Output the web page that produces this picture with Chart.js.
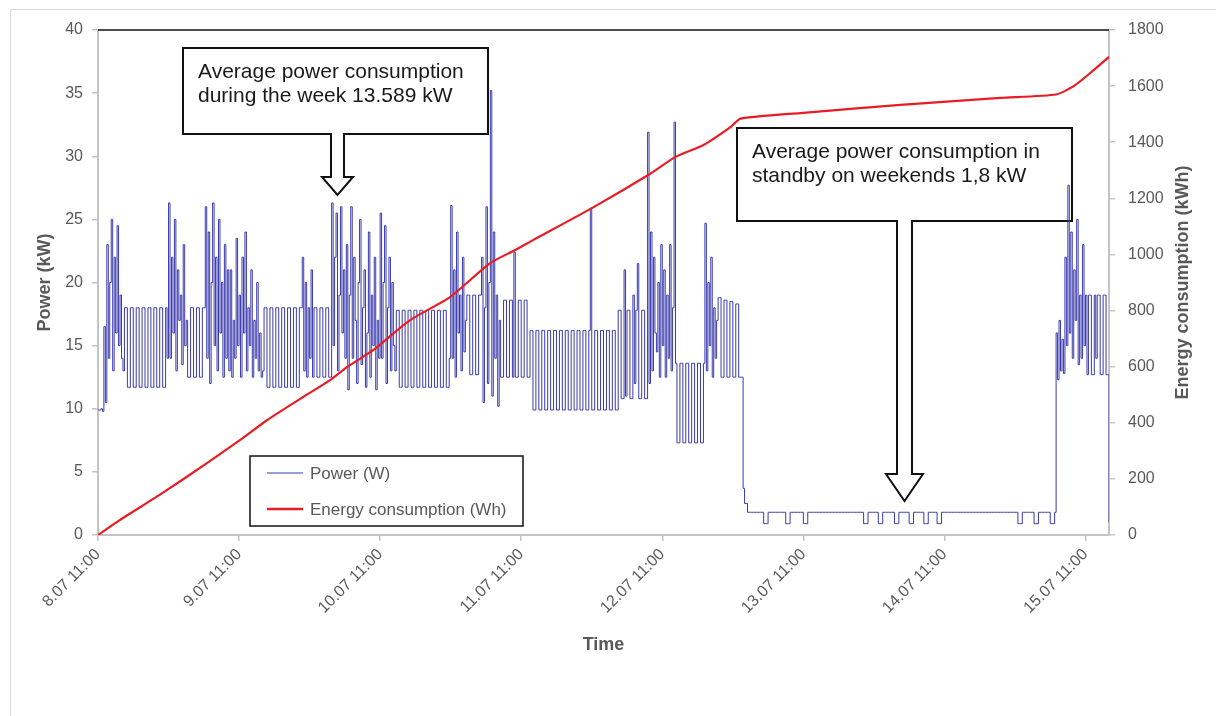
<!DOCTYPE html>
<html>
<head>
<meta charset="utf-8">
<script src="https://cdn.jsdelivr.net/npm/chart.js@4.4.1/dist/chart.umd.min.js"></script>
<style>
  html, body { margin: 0; padding: 0; background: #fff; }
  #wrap { position: relative; width: 1216px; height: 716px; overflow: hidden; }
  #frame { position: absolute; left: 10px; top: 9px; width: 1240px; height: 740px; border: 1px solid #d9d9d9; box-sizing: border-box; }
  canvas { position: absolute; left: 0; top: 0; }
</style>
</head>
<body>
<div id="wrap"><div id="frame"></div><canvas id="chart" width="1216" height="716"></canvas></div>
<script>
// x axis = hours after 8.07 11:00
const dayTicks = [0, 24, 48, 72, 96, 120, 144, 168];
const dayLabels = ['8.07 11:00', '9.07 11:00', '10.07 11:00', '11.07 11:00',
                   '12.07 11:00', '13.07 11:00', '14.07 11:00', '15.07 11:00'];

// power samples, one every 15 min (kW), one row = 6 h
const powerStep = 0.25;
const powerKW = [
  9.9, 9.9, 10, 9.8, 16.5, 10.5, 23, 14, 20, 25, 13, 22, 16, 24.5, 15, 19, 14, 13, 18, 18, 11.7, 11.7, 18, 18,
  11.7, 11.7, 18, 18, 11.7, 11.7, 18, 18, 11.7, 11.7, 18, 18, 11.7, 11.7, 18, 18, 11.7, 11.7, 18, 18, 11.7, 11.7, 18, 14,
  26.3, 14, 22, 16, 25, 13, 21, 17, 19, 13.5, 23, 15, 17, 12.5, 12.5, 18, 18, 12.5, 12.5, 18, 18, 12.5, 12.5, 18,
  18, 26, 14, 24, 12, 20, 26.3, 15, 22, 13, 25, 16, 20, 12.5, 23, 14, 21, 13, 21, 12.5, 17, 14, 23.5, 15,
  // 24 h
  19, 12.5, 22, 16, 24, 13, 18, 15, 21, 12.5, 17, 14, 20, 13, 16, 12.5, 13, 18, 18, 11.7, 11.7, 18, 18, 11.7,
  11.7, 18, 18, 11.7, 11.7, 18, 18, 11.7, 11.7, 18, 18, 11.7, 11.7, 18, 18, 11.7, 11.7, 18, 18, 22, 13, 20, 12.5, 18,
  14, 21, 12.5, 18, 18, 12.5, 12.5, 18, 18, 12.5, 12.5, 18, 18, 12.5, 12.5, 26.3, 15, 22, 25.5, 13, 19, 26, 16, 21,
  14, 23, 11.5, 19, 26, 14, 22, 17, 12, 20, 25, 13.5, 18, 21, 11.7, 16, 24, 12.5, 19, 15, 22, 11.5, 17, 14,
  // 48 h
  25.5, 14, 20, 24.5, 12, 18, 22, 13, 20, 15, 13, 17.8, 17.8, 11.7, 11.7, 17.8, 17.8, 11.7, 11.7, 17.8, 17.8, 11.7, 11.7, 17.8,
  17.8, 11.7, 11.7, 17.8, 17.8, 11.7, 11.7, 17.8, 17.8, 11.7, 11.7, 17.8, 17.8, 11.7, 11.7, 17.8, 17.8, 11.7, 11.7, 17.8, 17.8, 11.7, 11.7, 14,
  26.1, 14, 21, 12.5, 24, 16, 19, 13, 22, 14.5, 17, 19, 19, 12.7, 12.7, 19, 19, 12.7, 12.7, 19, 19, 22, 10.5, 18,
  26, 12, 20, 35.2, 11, 24, 14, 19, 10.2, 17, 12.5, 12.5, 18.6, 18.6, 12.5, 12.5, 18.6, 18.6, 12.5, 22.4, 12.5, 12.5, 18.6, 18.6,
  // 72 h
  12.5, 12.5, 18.6, 18.6, 12.5, 12.5, 16.2, 16.2, 9.9, 9.9, 16.2, 16.2, 9.9, 9.9, 16.2, 16.2, 9.9, 9.9, 16.2, 16.2, 9.9, 9.9, 16.2, 16.2,
  9.9, 9.9, 16.2, 16.2, 9.9, 9.9, 16.2, 16.2, 9.9, 9.9, 16.2, 16.2, 9.9, 9.9, 16.2, 16.2, 9.9, 9.9, 16.2, 16.2, 9.9, 9.9, 16.2, 25.9,
  9.9, 9.9, 16.2, 16.2, 9.9, 9.9, 16.2, 16.2, 9.9, 9.9, 16.2, 16.2, 9.9, 9.9, 16.2, 16.2, 9.9, 9.9, 17.8, 17.8, 10.8, 10.8, 21, 11,
  17.8, 17.8, 10.8, 10.8, 19, 12, 17.8, 21.5, 10.8, 10.8, 17.8, 17.8, 10.8, 10.8, 31.9, 12, 24, 13, 22, 16, 14.5, 20, 12.5, 23,
  // 96 h
  15, 21, 12.5, 19, 14, 23, 13, 18, 32.7, 13.6, 7.3, 7.3, 13.6, 13.6, 7.3, 7.3, 13.6, 13.6, 7.3, 7.3, 13.6, 13.6, 7.3, 7.3,
  13.6, 13.6, 7.3, 7.3, 13.6, 24.7, 13, 20, 15, 22, 12.5, 18, 14, 17, 18.8, 18.8, 12.5, 12.5, 18.6, 18.6, 12.5, 12.5, 18.5, 18.5,
  12.5, 12.5, 18.3, 18.3, 12.5, 12.5, 12.5, 3.7, 2.5, 2.5, 1.8, 1.8, 1.8, 1.8, 1.8, 1.8, 1.8, 1.8, 1.8, 1.8, 1.8, 0.9, 0.9, 0.9,
  1.8, 1.8, 1.8, 1.8, 1.8, 1.8, 1.8, 1.8, 1.8, 1.8, 1.8, 1.8, 0.9, 0.9, 0.9, 1.8, 1.8, 1.8, 1.8, 1.8, 1.8, 1.8, 1.8, 1.8,
  // 120 h
  0.9, 0.9, 0.9, 1.8, 1.8, 1.8, 1.8, 1.8, 1.8, 1.8, 1.8, 1.8, 1.8, 1.8, 1.8, 1.8, 1.8, 1.8, 1.8, 1.8, 1.8, 1.8, 1.8, 1.8,
  1.8, 1.8, 1.8, 1.8, 1.8, 1.8, 1.8, 1.8, 1.8, 1.8, 1.8, 1.8, 1.8, 1.8, 1.8, 1.8, 1.8, 0.9, 0.9, 0.9, 1.8, 1.8, 1.8, 1.8,
  1.8, 1.8, 1.8, 0.9, 0.9, 0.9, 1.8, 1.8, 1.8, 1.8, 1.8, 1.8, 1.8, 1.8, 0.9, 0.9, 0.9, 1.8, 1.8, 1.8, 1.8, 1.8, 1.8, 1.8,
  0.9, 0.9, 0.9, 1.8, 1.8, 1.8, 1.8, 1.8, 1.8, 1.8, 0.9, 0.9, 0.9, 1.8, 1.8, 1.8, 1.8, 1.8, 1.8, 0.9, 0.9, 0.9, 1.8, 1.8,
  // 144 h
  1.8, 1.8, 1.8, 1.8, 1.8, 1.8, 1.8, 1.8, 1.8, 1.8, 1.8, 1.8, 1.8, 1.8, 1.8, 1.8, 1.8, 1.8, 1.8, 1.8, 1.8, 1.8, 1.8, 1.8,
  1.8, 1.8, 1.8, 1.8, 1.8, 1.8, 1.8, 1.8, 1.8, 1.8, 1.8, 1.8, 1.8, 1.8, 1.8, 1.8, 1.8, 1.8, 1.8, 1.8, 1.8, 1.8, 1.8, 1.8,
  1.8, 1.8, 0.9, 0.9, 0.9, 1.8, 1.8, 1.8, 1.8, 1.8, 1.8, 1.8, 1.8, 0.9, 0.9, 0.9, 1.8, 1.8, 1.8, 1.8, 1.8, 1.8, 1.8, 1.8,
  0.9, 0.9, 0.9, 1.8, 16, 12.3, 17, 13, 15.5, 12.8, 22, 15, 27.7, 16, 24, 14, 21, 17, 25, 13.5, 19, 14, 23, 15,
  // 168 h
  19, 12.7, 19, 19, 12.7, 12.7, 19, 14, 19, 19, 12.7, 12.7, 19, 19, 12.7, 12.7, 1
];

// cumulative energy (kWh)
const energyHours = [0, 3.7, 11, 18.6, 24.2, 28.8, 34.9, 39.5, 42.4, 46.8, 53.1, 59.9, 66.7, 71, 74,
                     84.1, 93.6, 98.2, 103, 107.6, 109.3, 119.5, 136.5, 153.5, 163, 166, 169, 172];
const energyKWh = [0, 53, 150, 257, 339, 410, 492, 552, 599, 659, 766, 848, 969, 1016, 1051,
                   1166, 1283, 1347, 1390, 1454, 1484, 1504, 1533, 1558, 1570, 1600, 1650, 1704];

const FONT = "'Liberation Sans', Arial, sans-serif";
const GREY = '#595959';
const AXIS = '#c4c4c4';
const BLUE = 'rgb(58, 58, 172)';
const RED = 'rgb(232, 28, 36)';

Chart.defaults.font.family = FONT;
Chart.defaults.color = GREY;

function callout(ctx, b, lines) {
  const cx = (b.sl + b.sr) / 2;
  ctx.save();
  ctx.beginPath();
  ctx.moveTo(b.l, b.t);
  ctx.lineTo(b.r, b.t);
  ctx.lineTo(b.r, b.b);
  ctx.lineTo(b.sr, b.b);
  ctx.lineTo(b.sr, b.hy);
  ctx.lineTo(b.hr, b.hy);
  ctx.lineTo(cx, b.tip);
  ctx.lineTo(b.hl, b.hy);
  ctx.lineTo(b.sl, b.hy);
  ctx.lineTo(b.sl, b.b);
  ctx.lineTo(b.l, b.b);
  ctx.closePath();
  ctx.fillStyle = '#fff';
  ctx.fill();
  ctx.lineWidth = 2;
  ctx.strokeStyle = '#111';
  ctx.lineJoin = 'miter';
  ctx.stroke();
  ctx.fillStyle = '#1a1a1a';
  ctx.font = '21px ' + FONT;
  ctx.textBaseline = 'alphabetic';
  ctx.textAlign = 'left';
  lines.forEach((t, i) => ctx.fillText(t, b.tx, b.ty + i * 24));
  ctx.restore();
}

const decor = {
  id: 'decor',
  beforeDatasetsDraw(chart) {
    const ctx = chart.ctx;
    callout(ctx, {l: 183, t: 48, r: 488, b: 134, sl: 331, sr: 344, hy: 177, hl: 322, hr: 353, tip: 195, tx: 198, ty: 78},
      ['Average power consumption', 'during the week 13.589 kW']);
    callout(ctx, {l: 737, t: 128, r: 1072, b: 221, sl: 897, sr: 912, hy: 474, hl: 886, hr: 923, tip: 501, tx: 752, ty: 158},
      ['Average power consumption in', 'standby on weekends 1,8 kW']);
  },
  afterDraw(chart) {
    const ctx = chart.ctx;
    const a = chart.chartArea;
    ctx.save();
    // top frame line
    ctx.strokeStyle = '#111';
    ctx.lineWidth = 1.5;
    ctx.beginPath();
    ctx.moveTo(a.left, a.top);
    ctx.lineTo(a.right, a.top);
    ctx.stroke();

    // right axis title, reading upwards
    ctx.translate(1183, (a.top + a.bottom) / 2);
    ctx.rotate(-Math.PI / 2);
    ctx.font = 'bold 18px ' + FONT;
    ctx.fillStyle = GREY;
    ctx.textAlign = 'center';
    ctx.textBaseline = 'middle';
    ctx.fillText('Energy consumption (kWh)', 0, 0);
    ctx.restore();

    // legend box
    ctx.save();
    ctx.fillStyle = '#fff';
    ctx.fillRect(250, 456, 273, 70);
    ctx.strokeStyle = '#111';
    ctx.lineWidth = 1.5;
    ctx.strokeRect(250, 456, 273, 70);
    const ds = chart.data.datasets;
    const rows = [473, 509];
    ds.forEach((d, i) => {
      ctx.strokeStyle = d.borderColor;
      ctx.lineWidth = i === 0 ? 1 : 2.5;
      ctx.beginPath();
      ctx.moveTo(267, rows[i]);
      ctx.lineTo(303, rows[i]);
      ctx.stroke();
      ctx.fillStyle = GREY;
      ctx.font = '17px ' + FONT;
      ctx.textAlign = 'left';
      ctx.textBaseline = 'middle';
      ctx.fillText(d.label, 310, rows[i] + 1);
    });
    ctx.restore();
  }
};

new Chart(document.getElementById('chart'), {
  type: 'line',
  data: {
    datasets: [
      {
        label: 'Power (W)',
        data: powerKW.map((v, i) => ({x: i * powerStep, y: v})),
        borderColor: BLUE,
        borderWidth: 1,
        stepped: true,
        pointRadius: 0,
        yAxisID: 'y',
        order: 1
      },
      {
        label: 'Energy consumption (Wh)',
        data: energyHours.map((h, i) => ({x: h, y: energyKWh[i]})),
        borderColor: RED,
        borderWidth: 2.2,
        pointRadius: 0,
        tension: 0.2,
        yAxisID: 'y1',
        order: 0
      }
    ]
  },
  options: {
    responsive: false,
    devicePixelRatio: 1,
    animation: false,
    layout: { padding: { top: 30, left: 0, right: 0, bottom: 0 } },
    plugins: {
      legend: { display: false },
      tooltip: { enabled: false }
    },
    scales: {
      x: {
        type: 'linear',
        min: 0,
        max: 172,
        afterBuildTicks: s => { s.ticks = dayTicks.map(v => ({value: v})); },
        afterFit: s => { s.height = 181; },
        ticks: {
          callback: (v, i) => dayLabels[i],
          autoSkip: false,
          minRotation: 45,
          maxRotation: 45,
          padding: 4,
          font: { size: 16 },
          color: GREY
        },
        grid: { drawOnChartArea: false, tickLength: 6, color: AXIS, lineWidth: 1.5 },
        border: { color: AXIS, width: 2 },
        title: { display: true, text: 'Time', font: { size: 18, weight: 'bold' }, color: GREY, padding: { bottom: 60, top: 0 } }
      },
      y: {
        position: 'left',
        min: 0,
        max: 40,
        afterFit: s => { s.width = 98; },
        ticks: { stepSize: 5, padding: 9, font: { size: 16 }, color: GREY },
        grid: { drawOnChartArea: false, tickLength: 6, color: AXIS, lineWidth: 1.5 },
        border: { color: AXIS, width: 2 },
        title: { display: true, text: 'Power (kW)', font: { size: 18, weight: 'bold' }, color: GREY, padding: { top: 34, bottom: 0 } }
      },
      y1: {
        position: 'right',
        min: 0,
        max: 1800,
        afterFit: s => { s.width = 107; },
        ticks: { stepSize: 200, padding: 13, font: { size: 16 }, color: GREY, callback: v => String(v) },
        grid: { drawOnChartArea: false, tickLength: 6, color: AXIS, lineWidth: 1.5 },
        border: { color: AXIS, width: 2 }
      }
    }
  },
  plugins: [decor]
});
</script>
</body>
</html>
